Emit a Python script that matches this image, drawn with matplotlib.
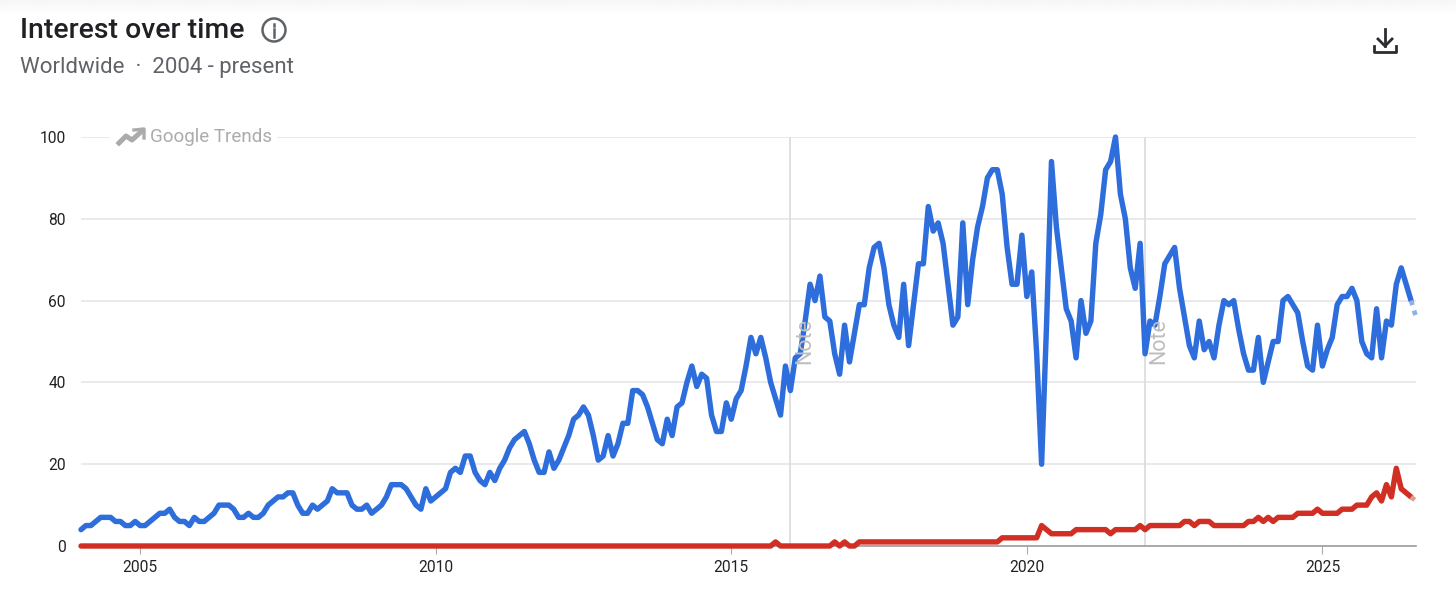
import numpy as np
import matplotlib
matplotlib.use("Agg")
import matplotlib.pyplot as plt
from matplotlib.lines import Line2D

title = "Interest over time"
subtitle = "Worldwide  ·  2004 - present"
brand = "Google Trends"
note_label = "Note"
year_ticks = [2005, 2010, 2015, 2020, 2025]
y_ticks = [0, 20, 40, 60, 80, 100]
note_years = [2016, 2022]
first_year = 2004

blue_by_year = [
    [4, 5, 5, 6, 7, 7, 7, 6, 6, 5, 5, 6],
    [5, 5, 6, 7, 8, 8, 9, 7, 6, 6, 5, 7],
    [6, 6, 7, 8, 10, 10, 10, 9, 7, 7, 8, 7],
    [7, 8, 10, 11, 12, 12, 13, 13, 10, 8, 8, 10],
    [9, 10, 11, 14, 13, 13, 13, 10, 9, 9, 10, 8],
    [9, 10, 12, 15, 15, 15, 14, 12, 10, 9, 14, 11],
    [12, 13, 14, 18, 19, 18, 22, 22, 18, 16, 15, 18],
    [16, 19, 21, 24, 26, 27, 28, 25, 21, 18, 18, 23],
    [19, 21, 24, 27, 31, 32, 34, 32, 27, 21, 22, 27],
    [22, 25, 30, 30, 38, 38, 37, 34, 30, 26, 25, 31],
    [27, 34, 35, 40, 44, 39, 42, 41, 32, 28, 28, 35],
    [31, 36, 38, 44, 51, 47, 51, 46, 40, 36, 32, 44],
    [38, 46, 47, 55, 64, 60, 66, 56, 55, 47, 42, 54],
    [45, 52, 59, 59, 68, 73, 74, 68, 59, 54, 51, 64],
    [49, 59, 69, 69, 83, 77, 79, 74, 64, 54, 56, 79],
    [59, 70, 78, 83, 90, 92, 92, 86, 73, 64, 64, 76],
    [61, 67, 47, 20, 54, 94, 78, 68, 58, 55, 46, 60],
    [52, 55, 74, 81, 92, 94, 100, 86, 80, 68, 63, 74],
    [47, 55, 54, 61, 69, 71, 73, 63, 56, 49, 46, 55],
    [48, 50, 46, 54, 60, 59, 60, 53, 47, 43, 43, 51],
    [40, 45, 50, 50, 60, 61, 59, 57, 50, 44, 43, 54],
    [44, 48, 51, 59, 61, 61, 63, 60, 50, 47, 46, 58],
    [46, 55, 54, 64, 68, 64, 60, 56],
]
red_by_year = [
    [0, 0, 0, 0, 0, 0, 0, 0, 0, 0, 0, 0],
    [0, 0, 0, 0, 0, 0, 0, 0, 0, 0, 0, 0],
    [0, 0, 0, 0, 0, 0, 0, 0, 0, 0, 0, 0],
    [0, 0, 0, 0, 0, 0, 0, 0, 0, 0, 0, 0],
    [0, 0, 0, 0, 0, 0, 0, 0, 0, 0, 0, 0],
    [0, 0, 0, 0, 0, 0, 0, 0, 0, 0, 0, 0],
    [0, 0, 0, 0, 0, 0, 0, 0, 0, 0, 0, 0],
    [0, 0, 0, 0, 0, 0, 0, 0, 0, 0, 0, 0],
    [0, 0, 0, 0, 0, 0, 0, 0, 0, 0, 0, 0],
    [0, 0, 0, 0, 0, 0, 0, 0, 0, 0, 0, 0],
    [0, 0, 0, 0, 0, 0, 0, 0, 0, 0, 0, 0],
    [0, 0, 0, 0, 0, 0, 0, 0, 0, 1, 0, 0],
    [0, 0, 0, 0, 0, 0, 0, 0, 0, 1, 0, 1],
    [0, 0, 1, 1, 1, 1, 1, 1, 1, 1, 1, 1],
    [1, 1, 1, 1, 1, 1, 1, 1, 1, 1, 1, 1],
    [1, 1, 1, 1, 1, 1, 1, 2, 2, 2, 2, 2],
    [2, 2, 2, 5, 4, 3, 3, 3, 3, 3, 4, 4],
    [4, 4, 4, 4, 4, 3, 4, 4, 4, 4, 4, 5],
    [4, 5, 5, 5, 5, 5, 5, 5, 6, 6, 5, 6],
    [6, 6, 5, 5, 5, 5, 5, 5, 5, 6, 6, 7],
    [6, 7, 6, 7, 7, 7, 7, 8, 8, 8, 8, 9],
    [8, 8, 8, 8, 9, 9, 9, 10, 10, 10, 12, 13],
    [11, 15, 12, 19, 14, 13, 12, 11],
]

blue = np.array([v for yr in blue_by_year for v in yr], dtype=float)
red = np.array([v for yr in red_by_year for v in yr], dtype=float)
months = np.arange(len(blue))

W, H = 1456, 591
plt.rcParams["font.family"] = ["Roboto", "DejaVu Sans"]
fig = plt.figure(figsize=(W / 100, H / 100), dpi=100, facecolor="white")

def fx(x):
    return x / W

def fy(y):
    return 1 - y / H

# faint band at top of the screenshot
band = fig.add_axes([0, fy(16), 1, 16 / H], zorder=-5)
band.imshow(np.linspace(0.965, 1, 32)[:, None], cmap="gray", vmin=0, vmax=1, aspect="auto")
band.axis("off")

ax = fig.add_axes([fx(81), fy(546), (1416 - 81) / W, (546 - 137) / H])
ax.set_xlim(0, len(months) - 1)
ax.set_ylim(0, 100)
ax.set_facecolor("none")
for s in ["top", "left", "right"]:
    ax.spines[s].set_visible(False)
ax.spines["bottom"].set_color("#9a9da1")
ax.spines["bottom"].set_linewidth(1.2)

ax.set_yticks(y_ticks)
ax.set_xticks([(y - first_year) * 12 for y in year_ticks])
ax.set_xticklabels([str(y) for y in year_ticks])
ax.tick_params(axis="y", length=0, pad=11, labelsize=11.2, labelcolor="#222222")
ax.tick_params(axis="x", length=6, width=0.8, color="#a8abaf", pad=4, labelsize=11.2,
               labelcolor="#222222")
ax.grid(axis="y", color="#e3e4e6", linewidth=1.1, zorder=0)
ax.set_axisbelow(True)

for y in note_years:
    xpos = (y - first_year) * 12
    ax.axvline(xpos, color="#dcdddf", linewidth=1.3, zorder=1)
    ax.annotate(note_label, (xpos, 0), xycoords=("data", "axes fraction"),
                xytext=(14, 205), textcoords="offset pixels", rotation=90,
                ha="center", va="center", color="#bdbdbd", fontsize=15.5, zorder=6)

BLUE, RED = "#2e6ddc", "#d22f24"
ax.plot(months[:-1], blue[:-1], color=BLUE, lw=3.9, solid_joinstyle="round",
        solid_capstyle="round", clip_on=False, zorder=4)
ax.plot(months[:-1], red[:-1], color=RED, lw=3.9, solid_joinstyle="round",
        solid_capstyle="round", clip_on=False, zorder=5)
ax.plot(months[-2:], blue[-2:], color="#8fb0ea", lw=3.4, ls=(0, (1, 1.2)), clip_on=False, zorder=4)
ax.plot(months[-2:], red[-2:], color="#e59a94", lw=3.4, ls=(0, (1, 1.2)), clip_on=False, zorder=5)

# header
fig.text(fx(20), fy(38), title, fontsize=20.4, color="#202124", ha="left", va="baseline",
         fontweight="medium")
fig.text(fx(20), fy(73), subtitle, fontsize=16, color="#5f6368", ha="left", va="baseline")

def px_line(xs, ys, **kw):
    fig.add_artist(Line2D([fx(v) for v in xs], [fy(v) for v in ys], transform=fig.transFigure, **kw))

# info icon
fig.add_artist(plt.Circle((274, H - 30), 11.5, transform=None, fill=False,
                          edgecolor="#5f6368", linewidth=1.8))
px_line([274, 274], [29, 37], color="#5f6368", lw=1.8)
px_line([274, 274], [23.5, 25.5], color="#5f6368", lw=1.8)

# download icon
dc = "#2b2d30"
px_line([1385, 1385], [29, 46], color=dc, lw=2.0)
px_line([1378, 1385, 1392], [39, 46, 39], color=dc, lw=2.0)
px_line([1374, 1374, 1396, 1396], [46, 52, 52, 46], color=dc, lw=2.0)

# brand watermark: white patch makes the gap in the 100 grid line
fig.patches.append(plt.Rectangle((fx(110), fy(148)), 167 / W, 22 / H, transform=fig.transFigure,
                                 facecolor="white", edgecolor="none", zorder=3))
lc = "#ababab"
px_line([119, 126, 132, 142], [143, 136, 140, 131], color=lc, lw=3.6, zorder=4)
px_line([134, 144, 144], [130, 129, 138], color=lc, lw=2.4, zorder=4)
fig.text(fx(150), fy(142), brand, fontsize=13.5, color="#ababab", ha="left", va="baseline", zorder=4)

fig.savefig("out.png", dpi=100, facecolor="white")
